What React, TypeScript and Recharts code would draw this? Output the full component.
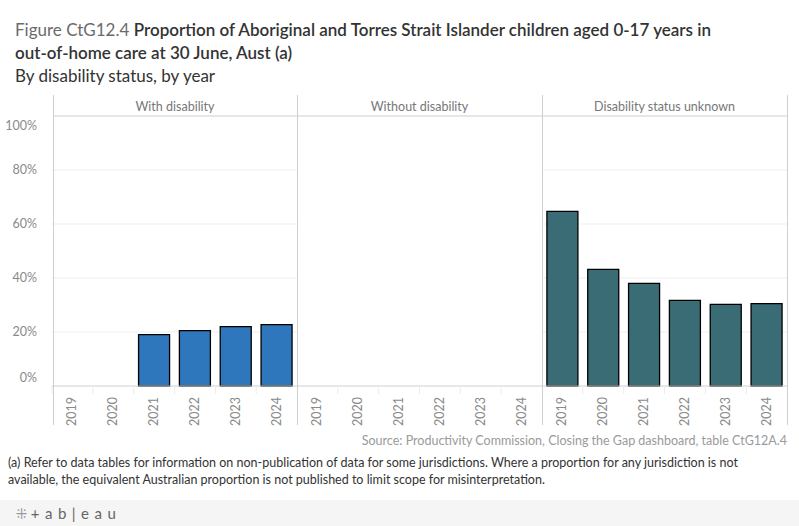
import { BarChart, Bar, XAxis, YAxis, CartesianGrid } from "recharts";

const years = ["2019", "2020", "2021", "2022", "2023", "2024"];
const withDisability = [null, null, 19.0, 20.5, 22.0, 22.7];
const withoutDisability = [null, null, null, null, null, null];
const statusUnknown = [64.7, 43.2, 38.0, 31.7, 30.2, 30.5];
const yTicks = [0, 20, 40, 60, 80, 100];

const panels = [
  { title: "With disability", values: withDisability, color: "#2e77bd" },
  { title: "Without disability", values: withoutDisability, color: "#2e77bd" },
  { title: "Disability status unknown", values: statusUnknown, color: "#3a6c75" },
];

const FONT = "Lato, 'Noto Sans', sans-serif";
const PLOT_TOP = 116;
const CHART_H = 430;
const X_AXIS_H = 44;
const Y_AXIS_W = 53;
const PANEL_W = 245;

function YTick(props: any) {
  const { x, y, payload } = props;
  let dy = 4;
  if (payload.value === 0) dy = -4;
  if (payload.value === 100) dy = 14;
  return (
    <text x={x - 7} y={y + dy} textAnchor="end" fill="#8a8a8a" fontSize={12.5} fontFamily={FONT}>
      {payload.value}%
    </text>
  );
}

function XTick(props: any) {
  const { x, y, payload } = props;
  const half = 40.8 / 2;
  return (
    <g>
      <line x1={x - half} y1={y - 8} x2={x - half} y2={y} stroke="#ececec" />
      <text
        transform={`translate(${x + 4},${y + 3}) rotate(-90)`}
        textAnchor="end"
        fill="#8a8a8a"
        fontSize={12.5}
        fontFamily={FONT}
      >
        {payload.value}
      </text>
    </g>
  );
}

function Panel({ values, color, showAxis }: { values: (number | null)[]; color: string; showAxis: boolean }) {
  const data = years.map((year, i) => ({ year, value: values[i] }));
  return (
    <BarChart
      width={showAxis ? PANEL_W + Y_AXIS_W - 1 : PANEL_W}
      height={CHART_H}
      data={data}
      margin={{ top: PLOT_TOP, right: 0, bottom: 0, left: 0 }}
      barCategoryGap="12%"
    >
      <CartesianGrid vertical={false} stroke="#efefef" horizontalValues={[20, 40, 60, 80]} />
      <YAxis
        domain={[0, 100]}
        ticks={yTicks}
        hide={!showAxis}
        width={Y_AXIS_W - 1}
        axisLine={false}
        tickLine={false}
        tick={<YTick />}
        interval={0}
      />
      <XAxis
        dataKey="year"
        height={X_AXIS_H}
        interval={0}
        tickLine={false}
        axisLine={{ stroke: "#cfcfcf" }}
        tick={<XTick />}
        padding={{ left: 0, right: 0 }}
      />
      <Bar dataKey="value" fill={color} stroke="#000" strokeWidth={1.3} isAnimationActive={false} />
    </BarChart>
  );
}

export default function App() {
  const lineXs = [53, 297, 542, 787];
  return (
    <div
      style={{
        position: "absolute",
        left: 0,
        top: 0,
        width: 799,
        height: 526,
        background: "#fff",
        fontFamily: FONT,
        overflow: "hidden",
      }}
    >
      <div style={{ position: "absolute", left: 15, top: 18, fontSize: 17, lineHeight: "23px", color: "#333", width: 780 }}>
        <span style={{ color: "#6b6b6b" }}>Figure CtG12.4 </span>
        <span style={{ fontWeight: 600 }}>
          Proportion of Aboriginal and Torres Strait Islander children aged 0-17 years in
          <br />
          out-of-home care at 30 June, Aust (a)
        </span>
        <br />
        <span>By disability status, by year</span>
      </div>

      <div style={{ position: "absolute", left: 0, top: 0, display: "flex" }}>
        {panels.map((p, i) => (
          <Panel key={p.title} values={p.values} color={p.color} showAxis={i === 0} />
        ))}
      </div>

      <svg width={799} height={526} style={{ position: "absolute", left: 0, top: 0, pointerEvents: "none" }}>
        <line x1={53} y1={116} x2={787} y2={116} stroke="#cfcfcf" />
        {lineXs.map((x) => (
          <line key={x} x1={x + 0.5} y1={95} x2={x + 0.5} y2={425} stroke="#cfcfcf" />
        ))}
        {panels.map((p, i) => (
          <text
            key={p.title}
            x={(lineXs[i] + lineXs[i + 1]) / 2}
            y={111}
            textAnchor="middle"
            fill="#777"
            fontSize={12.5}
            fontFamily={FONT}
          >
            {p.title}
          </text>
        ))}
      </svg>

      <div style={{ position: "absolute", right: 12, top: 433, fontSize: 12.5, color: "#9a9a9a" }}>
        Source: Productivity Commission, Closing the Gap dashboard, table CtG12A.4
      </div>
      <div
        style={{
          position: "absolute",
          left: 8,
          top: 454,
          fontSize: 12.5,
          lineHeight: "17px",
          color: "#333",
          whiteSpace: "nowrap",
        }}
      >
        (a) Refer to data tables for information on non-publication of data for some jurisdictions. Where a proportion for any
        jurisdiction is not
        <br />
        available, the equivalent Australian proportion is not published to limit scope for misinterpretation.
      </div>

      <div style={{ position: "absolute", left: 0, top: 500, width: 799, height: 26, background: "#f5f5f5" }}>
        <div style={{ position: "absolute", left: 16, top: 4, fontSize: 15, color: "#666", letterSpacing: 5.5, whiteSpace: "nowrap" }}>
          <span style={{ fontSize: 14, letterSpacing: 0, color: "#999" }}>⁜ </span>+ab|eau
        </div>
      </div>
    </div>
  );
}
